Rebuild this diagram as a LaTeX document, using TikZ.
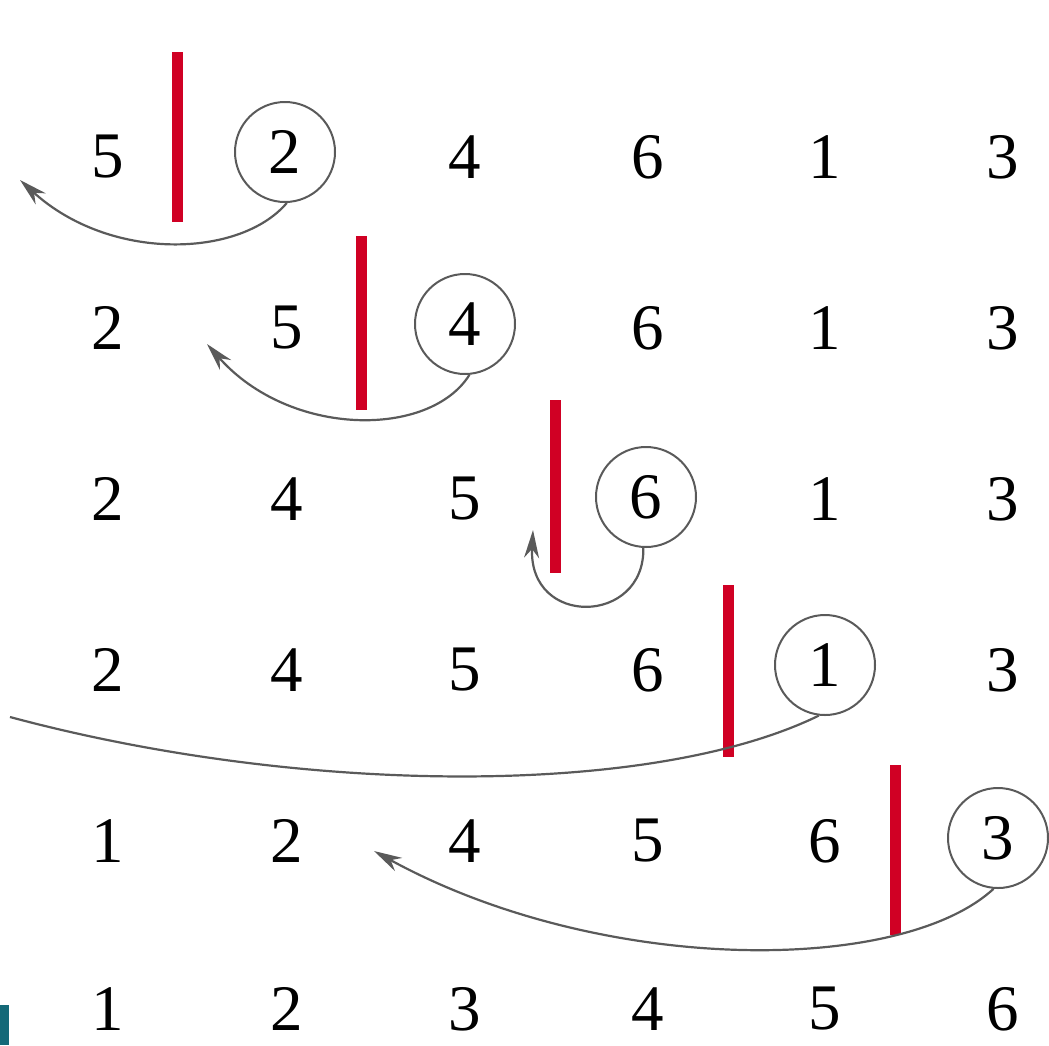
\documentclass[tikz,border=0pt]{standalone}
\usepackage{fontspec}
\setmainfont{Liberation Serif}
\usetikzlibrary{arrows.meta}
\definecolor{barred}{RGB}{208,0,36}
\definecolor{arrgray}{RGB}{90,90,90}
\definecolor{scanteal}{RGB}{20,105,120}
\begin{document}
\begin{tikzpicture}[x=1pt,y=-1pt,
  num/.style={font=\fontsize{65}{70}\selectfont, inner sep=0pt},
  circ/.style={num, circle, draw=arrgray, line width=2pt, minimum size=100pt},
  redbar/.style={draw=barred, line width=11pt},
  mv/.style={draw=arrgray, line width=2.2pt, -{Stealth[length=28pt,width=15pt,inset=9pt]}},
  mvline/.style={draw=arrgray, line width=2.2pt}]
\useasboundingbox (0,0) rectangle (1049,1045);
% row 1
\node[num]  (a1) at (108,157) {5};
\node[circ] (a2) at (285,152) {2};
\node[num]  (a3) at (465,157) {4};
\node[num]  (a4) at (648,157) {6};
\node[num]  (a5) at (825,157) {1};
\node[num]  (a6) at (1003,157) {3};
% row 2
\node[num]  (b1) at (108,328) {2};
\node[num]  (b2) at (287,328) {5};
\node[circ] (b3) at (465,324) {4};
\node[num]  (b4) at (648,328) {6};
\node[num]  (b5) at (825,328) {1};
\node[num]  (b6) at (1003,328) {3};
% row 3
\node[num]  (c1) at (108,499) {2};
\node[num]  (c2) at (287,499) {4};
\node[num]  (c3) at (465,499) {5};
\node[circ] (c4) at (646,497) {6};
\node[num]  (c5) at (825,499) {1};
\node[num]  (c6) at (1003,499) {3};
% row 4
\node[num]  (d1) at (108,670) {2};
\node[num]  (d2) at (287,670) {4};
\node[num]  (d3) at (465,670) {5};
\node[num]  (d4) at (648,670) {6};
\node[circ] (d5) at (825,665) {1};
\node[num]  (d6) at (1003,670) {3};
% row 5
\node[num]  (e1) at (108,841) {1};
\node[num]  (e2) at (287,841) {2};
\node[num]  (e3) at (465,841) {4};
\node[num]  (e4) at (648,841) {5};
\node[num]  (e5) at (825,841) {6};
\node[circ] (e6) at (998,838) {3};
% row 6
\node[num]  (f1) at (108,1009) {1};
\node[num]  (f2) at (287,1009) {2};
\node[num]  (f3) at (465,1009) {3};
\node[num]  (f4) at (648,1009) {4};
\node[num]  (f5) at (825,1009) {5};
\node[num]  (f6) at (1003,1009) {6};
% red bars
\draw[redbar] (177,52) -- (177,222);
\draw[redbar] (361,236) -- (361,410);
\draw[redbar] (555,400) -- (555,573);
\draw[redbar] (728,585) -- (728,757);
\draw[redbar] (895,765) -- (895,935);
% arrow ends
\coordinate (t1) at (20,180);
\coordinate (t2) at (207,344);
\coordinate (t3) at (533,530);
\coordinate (t4) at (10,717);
\coordinate (t5) at (374,851);
% arrows
\draw[mv] (a2.-88) .. controls (240,258) and (110,262) .. (t1);
\draw[mv] (b3.-85) .. controls (430,438) and (290,438) .. (t2);
\draw[mv] (c4.-93) .. controls (645,625) and (528,628) .. (t3);
\draw[mvline] (d5.-97) .. controls (650,798) and (300,795) .. (t4);
\draw[mv] (e6.-95) .. controls (900,975) and (600,975) .. (t5);
% scan mark
\fill[scanteal] (0,1005) rectangle (9,1045);
\end{tikzpicture}
\end{document}
